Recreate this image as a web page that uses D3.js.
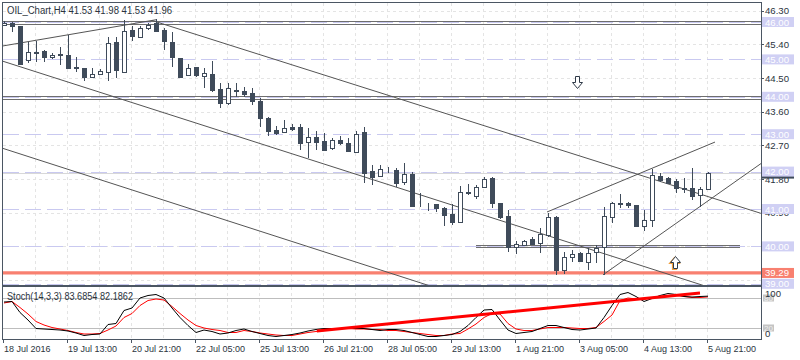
<!DOCTYPE html>
<html><head><meta charset="utf-8">
<script src="https://cdn.jsdelivr.net/npm/d3@7"></script>
<style>body{margin:0;background:#fff} text{font-family:"Liberation Sans",Arial,sans-serif}</style>
</head><body><svg id="c" width="800" height="360"></svg>
<script>
// ---------- data ----------
const openP  = [45.92,45.97,45.89,44.98,45.18,45.22,45.06,45.13,45.12,44.79,44.76,44.52,44.61,44.67,45.46,44.67,45.79,45.60,45.83,45.97,45.79,45.46,45.03,44.58,44.79,44.56,44.61,44.21,43.83,44.15,44.16,44.11,43.90,43.43,43.11,43.05,43.18,43.20,42.78,42.93,42.82,42.62,42.84,42.76,42.53,43.05,42.02,41.89,42.06,42.04,41.73,41.94,41.12,41.09,41.13,41.03,40.87,40.66,41.43,41.35,41.58,41.84,41.15,40.81,39.98,40.04,40.19,40.10,40.30,40.78,39.38,39.71,39.82,39.59,39.84,39.98,40.78,41.14,41.15,41.10,40.55,40.71,41.88,41.82,41.74,41.56,41.55,41.37,41.53];
const highP  = [46.02,46.00,45.90,45.47,45.50,45.25,45.18,45.34,45.65,45.06,44.78,44.76,44.74,45.59,45.59,46.05,45.89,45.89,45.97,46.07,45.83,45.74,45.05,44.87,44.80,44.76,44.96,44.36,44.36,44.38,44.25,44.23,43.96,43.45,43.23,43.38,43.26,43.26,43.16,43.09,43.02,42.89,42.95,42.89,43.09,43.20,42.18,42.18,42.12,42.10,42.22,42.00,41.42,41.17,41.14,41.05,41.13,41.61,41.66,41.64,41.86,41.86,41.16,40.97,40.15,40.18,40.25,40.48,40.88,40.80,39.86,39.90,39.84,39.95,40.04,41.06,41.20,41.40,41.20,41.11,40.97,42.06,41.97,41.85,41.80,41.82,42.09,41.60,41.98];
const lowP   = [45.90,45.74,44.85,44.90,44.94,44.94,45.00,44.85,44.76,44.67,44.43,44.49,44.58,44.43,44.49,44.63,45.50,45.56,45.79,45.75,45.25,44.80,44.50,44.56,44.54,44.23,44.14,43.71,43.78,44.00,44.00,43.78,43.20,42.96,42.98,43.05,43.09,42.58,42.36,42.58,42.58,42.58,42.71,42.53,42.53,41.70,41.64,41.88,41.95,41.60,41.64,41.05,41.05,40.95,40.93,40.55,40.57,40.63,41.37,41.26,41.57,41.02,40.72,39.86,39.80,40.03,40.03,39.83,40.26,39.24,39.26,39.59,39.59,39.37,39.55,39.24,40.63,41.02,41.02,40.54,40.42,40.51,41.73,41.66,41.44,41.44,41.24,41.06,41.53];
const closeP = [45.98,45.89,44.88,45.20,45.20,45.06,45.12,45.15,44.78,44.77,44.54,44.61,44.69,45.43,44.72,45.76,45.63,45.83,45.92,45.77,45.50,45.06,44.52,44.78,44.58,44.63,44.18,43.83,44.23,44.17,44.08,43.90,43.43,43.09,43.02,43.16,43.15,42.77,42.92,42.80,42.58,42.84,42.77,42.56,43.00,41.97,41.86,42.07,42.08,41.69,41.94,41.08,41.10,41.07,41.02,40.84,40.66,41.45,41.45,41.58,41.81,41.15,40.79,39.98,40.06,40.15,40.06,40.32,40.78,39.37,39.71,39.80,39.61,39.83,39.97,40.81,41.15,41.16,41.12,40.55,40.70,41.91,41.78,41.70,41.55,41.54,41.35,41.53,41.96];
const stochK = [72,73,51,36,19,18,17,16,14,10,5,7,8,27,29,55,60,80,85,87,80,60,41,25,11,16,13,8,10,15,18,13,9,5,3,5,7,10,14,17,19,19,19,19,19,19,17,15,17,17,15,11,7,3,3,5,7,13,25,41,56,57,36,16,9,11,13,19,25,25,21,17,16,18,20,41,65,87,91,83,73,79,85,89,87,83,82,83,83.6854];
const stochD = [70,73,61,48,33,26,21,18,15,11,8,8,9,16,24,41,49,65,75,78,76,63,49,36,25,20,17,15,11,11,15,13,10,8,6,5,5,8,11,13,15,17,19,19,18,18,17,17,15,15,13,11,9,7,5,5,8,9,18,28,41,49,48,29,18,15,15,18,21,21,21,20,19,19,21,33,46,75,80,78,78,81,83,85,85,83,81,81,82.1862];
const timeLabels = ["18 Jul 2016","19 Jul 13:00","20 Jul 21:00","22 Jul 05:00","25 Jul 13:00","26 Jul 21:00","28 Jul 05:00","29 Jul 13:00","1 Aug 21:00","3 Aug 05:00","4 Aug 13:00","5 Aug 21:00"];
const timeLabelBars = [0,8,16,24,32,40,48,56,64,72,80,88];
const priceTicks = [46.30,45.40,44.50,43.60,42.70,41.80,40.90,40.00,39.10];
const levelPrices = [46,45,44,43,42,41,40,39];
const doubleLevels = [46,44];
const partialLevel = {price:40, from:59, to:92};
const supportLevel = 39.29;
const lastPrice = 41.96;
const stochLevels = [80,20];
// trend lines: [bar, price] pairs; ray = extend both ways to the frame
const trendLines = [
  {a:[-0.125,45.36], b:[19,46.06], ray:false},
  {a:[18.5,46.04],   b:[94.6,40.885], ray:false},
  {a:[-0.125,44.95], b:[84.875,39.13], ray:true},
  {a:[-0.125,42.62], b:[52,39.03], ray:true},
  {a:[74.875,39.24], b:[92,41.82], ray:false, extendRight:true},
  {a:[67.875,40.92], b:[88.875,42.79], ray:false}
];
const stochTrend = {a:[39.1,14], b:[87,90]};
const arrowsDown = [{bar:71.6, price:44.40}];
const arrowsUp = [{bar:83.9, price:39.58}];

// ---------- layout ----------
const svg = d3.select("#c");
const L=3, R=761, MT=3, MB=285, ST=287, SB=339;
const x = d3.scaleLinear().domain([0,88]).range([4,708]);
const y = d3.scaleLinear().domain([39,46]).range([283.8,22]);
const ys = d3.scaleLinear().domain([0,100]).range([338,288]);
const dark="#3f4b5a", frame="#4b5663", txt="#2b3440";

svg.append("rect").attr("width",800).attr("height",360).attr("fill","#fff");
const defs=svg.append("defs");
defs.append("clipPath").attr("id","cm").append("rect").attr("x",L).attr("y",MT).attr("width",R-L).attr("height",MB-MT);
defs.append("clipPath").attr("id","cs").append("rect").attr("x",L).attr("y",ST).attr("width",R-L).attr("height",SB-ST);

const gm = svg.append("g").attr("clip-path","url(#cm)");
const gs = svg.append("g").attr("clip-path","url(#cs)");

// grid vertical
const gridBars = d3.range(4,89,4);
[gm,gs].forEach((g,k)=>{
  g.selectAll(null).data(gridBars).enter().append("line")
   .attr("x1",d=>Math.round(x(d))-0.5).attr("x2",d=>Math.round(x(d))-0.5)
   .attr("y1",k?ST:MT).attr("y2",k?SB:MB)
   .attr("stroke","#e4e4e4").attr("stroke-dasharray","3,3").attr("shape-rendering","crispEdges");
});
// grid horizontal
gm.selectAll(null).data(priceTicks).enter().append("line")
  .attr("x1",L).attr("x2",R).attr("y1",d=>Math.round(y(d))+0.5).attr("y2",d=>Math.round(y(d))+0.5)
  .attr("stroke","#e4e4e4").attr("stroke-dasharray","3,3").attr("shape-rendering","crispEdges");

// lavender level lines
gm.selectAll(null).data(levelPrices).enter().append("line")
  .attr("x1",L).attr("x2",R).attr("y1",d=>Math.round(y(d))+0.5).attr("y2",d=>Math.round(y(d))+0.5)
  .attr("stroke","#c9c9f0").attr("stroke-dasharray","16,6").attr("shape-rendering","crispEdges");
// double gray levels
doubleLevels.forEach(p=>{
  [-1.5,1.5].forEach(o=>{
    gm.append("line").attr("x1",L).attr("x2",R).attr("y1",Math.round(y(p))+0.5+o).attr("y2",Math.round(y(p))+0.5+o)
      .attr("stroke","#6e6e6e").attr("shape-rendering","crispEdges");
  });
});
[-1,1].forEach(o=>{
  gm.append("line").attr("x1",x(partialLevel.from)).attr("x2",x(partialLevel.to))
    .attr("y1",Math.round(y(partialLevel.price))+0.5+o).attr("y2",Math.round(y(partialLevel.price))+0.5+o)
    .attr("stroke","#6e6e6e").attr("shape-rendering","crispEdges");
});
// bid line
gm.append("line").attr("x1",L).attr("x2",R).attr("y1",Math.round(y(lastPrice))+0.5).attr("y2",Math.round(y(lastPrice))+0.5)
  .attr("stroke","#d8d8d8").attr("shape-rendering","crispEdges");
// support line
gm.append("line").attr("x1",L).attr("x2",R).attr("y1",y(supportLevel)).attr("y2",y(supportLevel))
  .attr("stroke","#f88070").attr("stroke-width",3.2);

// trend lines
trendLines.forEach(t=>{
  let [i1,p1]=t.a,[i2,p2]=t.b;
  const s=(p2-p1)/(i2-i1);
  if(t.ray){ const lo=-2, hi=100; p1=p1+s*(lo-i1); i1=lo; p2=p1+s*(hi-lo); i2=hi; }
  if(t.extendRight){ const hi=100; p2=p2+s*(hi-i2); i2=hi; }
  gm.append("line").attr("x1",x(i1)).attr("y1",y(p1)).attr("x2",x(i2)).attr("y2",y(p2))
    .attr("stroke","#555").attr("stroke-width",1);
});

// candles
const bars = d3.range(openP.length).map(i=>({i,o:openP[i],h:highP[i],l:lowP[i],c:closeP[i]}));
const cg = gm.selectAll(null).data(bars).enter().append("g");
cg.append("line")
  .attr("x1",d=>Math.round(x(d.i))+0.5).attr("x2",d=>Math.round(x(d.i))+0.5)
  .attr("y1",d=>Math.round(y(d.h))).attr("y2",d=>Math.round(y(d.l)))
  .attr("stroke",dark).attr("shape-rendering","crispEdges");
cg.append("rect")
  .attr("x",d=>Math.round(x(d.i))-1.5).attr("width",4)
  .attr("y",d=>Math.round(y(Math.max(d.o,d.c)))+0.5)
  .attr("height",d=>Math.max(0,Math.round(y(Math.min(d.o,d.c)))-Math.round(y(Math.max(d.o,d.c)))))
  .attr("fill",d=>d.c>=d.o?"#fff":dark).attr("stroke",dark).attr("shape-rendering","crispEdges");

// arrows
function arrowPath(cx,cy,dir){ // dir 1 = down
  const pts=[[-2,-6],[2,-6],[2,0],[5,0],[0,6],[-5,0],[-2,0]];
  return "M"+pts.map(p=>[cx+p[0],cy+dir*p[1]].join(",")).join("L")+"Z";
}
arrowsDown.forEach(a=>{
  gm.append("path").attr("d",arrowPath(Math.round(x(a.bar))+0.5,Math.round(y(a.price))+0.5,1))
    .attr("fill","#fff").attr("stroke","#2f3a48").attr("stroke-width",1);
});
arrowsUp.forEach(a=>{
  const cx=Math.round(x(a.bar))+0.5, cy=Math.round(y(a.price))+0.5;
  gm.append("path").attr("d",arrowPath(cx-1,cy+1,-1)).attr("fill","none").attr("stroke","#f0a040").attr("stroke-width",1.2);
  gm.append("path").attr("d",arrowPath(cx,cy,-1)).attr("fill","#fff").attr("stroke","#2f3a48").attr("stroke-width",1);
});

// stoch panel
gs.selectAll(null).data(stochLevels).enter().append("line")
  .attr("x1",L).attr("x2",R).attr("y1",d=>Math.round(ys(d))+0.5).attr("y2",d=>Math.round(ys(d))+0.5)
  .attr("stroke","#bdbdbd").attr("shape-rendering","crispEdges");
gs.append("path").datum(stochD).attr("d",d3.line().x((d,i)=>x(i)).y(d=>ys(d)))
  .attr("fill","none").attr("stroke","#ff0000").attr("stroke-width",1);
gs.append("path").datum(stochK).attr("d",d3.line().x((d,i)=>x(i)).y(d=>ys(d)))
  .attr("fill","none").attr("stroke","#000").attr("stroke-width",1);
gs.append("line").attr("x1",x(stochTrend.a[0])).attr("y1",ys(stochTrend.a[1]))
  .attr("x2",x(stochTrend.b[0])).attr("y2",ys(stochTrend.b[1]))
  .attr("stroke","#ff0000").attr("stroke-width",3);

// frames
svg.append("rect").attr("x",L-0.5).attr("y",MT-0.5).attr("width",R-L+1).attr("height",MB-MT+1)
  .attr("fill","none").attr("stroke",frame).attr("shape-rendering","crispEdges");
svg.append("rect").attr("x",L-0.5).attr("y",ST-0.5).attr("width",R-L+1).attr("height",SB-ST+1)
  .attr("fill","none").attr("stroke",frame).attr("shape-rendering","crispEdges");

// title texts
const last = openP.length-1;
svg.append("text").attr("x",7).attr("y",14).attr("font-size",10).attr("fill",txt)
  .attr("textLength",165).attr("lengthAdjust","spacingAndGlyphs")
  .text("OIL_Chart,H4  "+[openP[last],highP[last],lowP[last],closeP[last]].map(v=>v.toFixed(2)).join(" "));
svg.append("text").attr("x",7).attr("y",299.5).attr("font-size",10).attr("fill",txt)
  .attr("textLength",126).attr("lengthAdjust","spacingAndGlyphs")
  .text("Stoch(14,3,3) "+stochK[last].toFixed(4)+" "+stochD[last].toFixed(4));

// price axis
svg.selectAll(null).data(priceTicks).enter().append("line")
  .attr("x1",R).attr("x2",R+3).attr("y1",d=>Math.round(y(d))+0.5).attr("y2",d=>Math.round(y(d))+0.5)
  .attr("stroke",frame).attr("shape-rendering","crispEdges");
// labels fully hidden behind level boxes are not drawn
const visibleTicks = priceTicks.filter(t=>!levelPrices.some(l=>Math.abs(l-t)<0.001) && t>39.5);
svg.selectAll(null).data(visibleTicks).enter().append("text")
  .attr("x",765).attr("y",d=>y(d)+3.5).attr("font-size",9.6).attr("fill",txt).text(d=>d.toFixed(2));
// bid label (mostly hidden)
svg.append("rect").attr("x",R+1).attr("y",y(lastPrice)-4.5).attr("width",32).attr("height",10).attr("fill","#3f4b5a");
// level labels
levelPrices.forEach(p=>{
  svg.append("rect").attr("x",R+1).attr("y",y(p)-5).attr("width",32).attr("height",10).attr("fill","#d0d0f4");
  svg.append("text").attr("x",765).attr("y",y(p)+3.5).attr("font-size",9.6).attr("fill","#fff").text(p.toFixed(2));
});
svg.append("rect").attr("x",R+1).attr("y",y(supportLevel)-5).attr("width",32).attr("height",10).attr("fill","#f88070");
svg.append("text").attr("x",765).attr("y",y(supportLevel)+3.5).attr("font-size",9.6).attr("fill","#fff").text(supportLevel.toFixed(2));

// stoch axis
stochLevels.forEach(v=>{
  svg.append("rect").attr("x",R+2).attr("y",ys(v)-3.5).attr("width",11).attr("height",7).attr("fill","#c4c4c4");
  svg.append("text").attr("x",R+3).attr("y",ys(v)+3).attr("font-size",8).attr("fill","#eee").text(v);
});
svg.append("text").attr("x",765).attr("y",297).attr("font-size",9.6).attr("fill",txt).text("100");
svg.append("text").attr("x",765).attr("y",337).attr("font-size",9.6).attr("fill",txt).text("0");

// time axis
svg.selectAll(null).data(timeLabelBars).enter().append("line")
  .attr("x1",d=>Math.round(x(d))-0.5).attr("x2",d=>Math.round(x(d))-0.5).attr("y1",SB).attr("y2",SB+4)
  .attr("stroke",frame).attr("shape-rendering","crispEdges");
svg.selectAll(null).data(timeLabelBars).enter().append("text")
  .attr("x",d=>Math.round(x(d))).attr("y",352).attr("font-size",9).attr("fill",txt)
  .text((d,i)=>timeLabels[i]);
</script></body></html>
